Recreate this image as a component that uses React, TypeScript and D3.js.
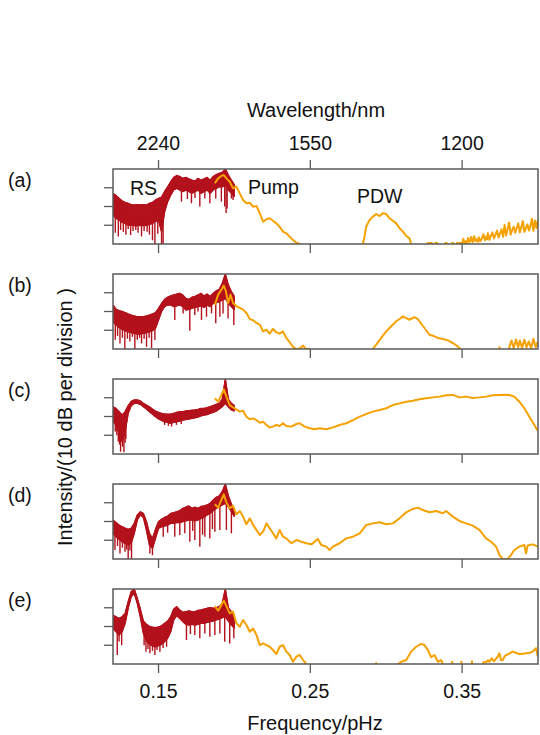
import React from 'react';
import * as d3 from 'd3';

type P = [number, number];

const panelLabels = ['(a)', '(b)', '(c)', '(d)', '(e)'];
const freqTicks = [0.15, 0.25, 0.35];
const freqTickLabels = ['0.15', '0.25', '0.35'];
const wavelengthLabels = ['2240', '1550', '1200'];
const intensityTicks = [1, 2, 3];

const redF = [0.120, 0.122, 0.124, 0.126, 0.128, 0.130, 0.132, 0.134, 0.136, 0.138, 0.140, 0.142, 0.144, 0.146, 0.148, 0.150, 0.152, 0.154, 0.156, 0.158, 0.160, 0.162, 0.164, 0.166, 0.168, 0.170, 0.172, 0.174, 0.176, 0.178, 0.180, 0.182, 0.184, 0.186, 0.188, 0.190, 0.192, 0.194, 0.196, 0.198, 0.200];

// ---- panel (a)
const redHiA = [2.7, 2.58, 2.44, 2.3, 2.22, 2.17, 2.1, 2.08, 2.1, 2.08, 2.1, 2.08, 2.17, 2.22, 2.35, 2.43, 2.5, 2.8, 3.05, 3.32, 3.55, 3.65, 3.6, 3.5, 3.55, 3.47, 3.4, 3.36, 3.5, 3.4, 3.47, 3.55, 3.4, 3.6, 3.7, 3.77, 3.82, 4.0, 3.68, 3.4, 3.15];
const redLoA = [1.55, 1.37, 1.28, 1.15, 1.1, 1.0, 1.0, 0.98, 0.98, 1.0, 0.98, 1.0, 1.05, 1.1, 1.2, 1.28, 0.65, 1.72, 2.26, 2.6, 2.88, 2.97, 2.88, 2.8, 2.88, 2.8, 2.7, 2.8, 2.88, 2.7, 2.8, 2.88, 2.7, 2.88, 2.97, 3.05, 3.05, 3.15, 2.88, 2.7, 2.52];
const spikesA: P[] = [[0.1215, 0.6], [0.1235, 0.4], [0.125, 0.75], [0.1268, 0.65], [0.1285, 0.5], [0.13, 0.8], [0.1316, 0.48], [0.1332, 0.7], [0.135, 0.75], [0.1365, 0.6], [0.1388, 0.4], [0.1405, 0.7], [0.1425, 0.65], [0.144, 0.5], [0.146, 0.2], [0.1476, 0], [0.1495, 0.55], [0.152, 0], [0.153, 0], [0.1651, 2.26], [0.169, 2.4], [0.1717, 2.17], [0.174, 2.45], [0.1772, 2.0], [0.1805, 2.43], [0.1838, 2.17], [0.1877, 2.43], [0.1914, 2.26], [0.1936, 2.0], [0.1945, 1.65], [0.1952, 1.9], [0.198, 2.43], [0.1991, 2.35]];
const orangeA: P[] = [[0.1871, 3.24], [0.1893, 3.5], [0.1914, 3.63], [0.193, 3.68], [0.1947, 3.5], [0.1969, 3.32], [0.1991, 2.97], [0.2013, 3.06], [0.2035, 2.7], [0.2057, 2.35], [0.2079, 2.17], [0.2101, 2.2], [0.2123, 1.99], [0.2145, 2.03], [0.2167, 1.64], [0.2189, 1.19], [0.2211, 1.32], [0.2232, 1.37], [0.2254, 1.24], [0.2276, 1.1], [0.2298, 0.92], [0.232, 0.66], [0.2342, 0.57], [0.2364, 0.39], [0.2386, 0.21], [0.2408, 0.07], [0.243, 0], [0.2441, -1], [0.284, -1], [0.2846, 0], [0.2857, 0.39], [0.2868, 0.92], [0.289, 1.28], [0.2912, 1.46], [0.2934, 1.6], [0.2956, 1.49], [0.2978, 1.64], [0.3, 1.6], [0.3022, 1.37], [0.3044, 1.24], [0.3066, 1.1], [0.3088, 0.84], [0.311, 0.66], [0.3132, 0.43], [0.3154, 0.3], [0.3164, 0], [0.317, -1], [0.327, -1], [0.3274, 0.06], [0.3302, 0.06], [0.3306, -1], [0.332, -1], [0.3324, 0.06], [0.3336, 0.06], [0.334, -1], [0.3385, -1], [0.339, 0.06], [0.3398, 0.06], [0.3402, -1], [0.343, -1], [0.3434, 0.06], [0.3442, 0.06], [0.3446, -1], [0.3462, -1], [0.3466, 0.06], [0.3492, 0.06], [0.35, 0.02], [0.3508, 0.28], [0.3515, 0.04], [0.3522, 0.15], [0.353, 0.05], [0.354, 0.32], [0.3548, 0.08], [0.3555, 0.2], [0.356, 0.38], [0.357, 0.1], [0.358, 0.42], [0.3588, 0.15], [0.3595, 0.25], [0.3605, 0.12], [0.361, 0.36], [0.362, 0.15], [0.363, 0.3], [0.364, 0.52], [0.365, 0.2], [0.3658, 0.4], [0.3665, 0.25], [0.367, 0.58], [0.368, 0.22], [0.369, 0.45], [0.37, 0.62], [0.371, 0.3], [0.372, 0.5], [0.373, 0.72], [0.374, 0.35], [0.375, 0.55], [0.376, 0.78], [0.377, 0.38], [0.378, 1.02], [0.379, 0.45], [0.38, 0.8], [0.381, 1.15], [0.382, 0.5], [0.383, 0.75], [0.384, 0.92], [0.385, 0.6], [0.386, 0.85], [0.387, 1.1], [0.388, 0.62], [0.389, 0.9], [0.39, 1.22], [0.391, 0.65], [0.392, 0.85], [0.393, 1.05], [0.394, 0.72], [0.395, 0.95], [0.396, 1.35], [0.397, 0.7], [0.398, 1.25], [0.399, 0.85], [0.4, 1.3]];

// ---- panel (b)
const redHiB = [2.35, 2.12, 2.04, 2.0, 1.94, 1.87, 1.81, 1.76, 1.72, 1.72, 1.72, 1.76, 1.81, 1.87, 1.94, 2.17, 2.43, 2.65, 2.76, 2.83, 2.88, 2.93, 2.97, 2.88, 2.7, 2.65, 2.76, 2.8, 2.88, 2.97, 2.83, 2.93, 2.8, 2.97, 3.1, 3.18, 3.5, 4.0, 3.41, 3.06, 2.8];
const redLoB = [1.46, 1.28, 1.15, 1.05, 0.98, 0.92, 0.87, 0.84, 0.8, 0.8, 0.84, 0.87, 0.92, 0.98, 1.1, 1.55, 2.0, 2.26, 2.35, 2.35, 2.26, 2.3, 2.35, 2.26, 2.08, 2.12, 2.17, 2.22, 2.26, 2.3, 2.22, 2.35, 2.26, 2.43, 2.47, 2.52, 2.61, 2.7, 2.43, 2.26, 2.08];
const spikesB: P[] = [[0.1215, 0.5], [0.123, 0.7], [0.1246, 0.3], [0.1262, 0.6], [0.1278, 0], [0.1295, 0.55], [0.1311, 0.4], [0.1328, 0.65], [0.1344, 0], [0.136, 0.5], [0.1375, 0.6], [0.1388, 0.3], [0.1405, 0.55], [0.1421, 0.12], [0.1438, 0.6], [0.1454, 0.05], [0.1476, 0.48], [0.1607, 1.55], [0.1662, 1.9], [0.1706, 0.98], [0.1739, 1.81], [0.176, 2.0], [0.1783, 1.55], [0.1816, 1.72], [0.1849, 1.9], [0.1877, 1.37], [0.1904, 1.72], [0.1925, 1.9], [0.1958, 1.63], [0.1996, 1.28]];
const orangeB: P[] = [[0.1871, 2.36], [0.1893, 2.9], [0.1914, 3.16], [0.193, 3.38], [0.1944, 3.08], [0.1958, 2.45], [0.1974, 2.9], [0.1991, 2.45], [0.2013, 2.28], [0.2035, 2.19], [0.2057, 2.1], [0.2079, 1.92], [0.2101, 1.6], [0.2123, 1.53], [0.2145, 1.39], [0.2167, 1.3], [0.2189, 0.94], [0.2211, 1.03], [0.2232, 0.82], [0.2254, 1.07], [0.2276, 0.89], [0.2298, 0.82], [0.232, 0.94], [0.2342, 0.59], [0.2364, 0.36], [0.2386, 0.11], [0.2408, 0], [0.243, 0.03], [0.2452, 0.18], [0.247, 0], [0.249, 0.02], [0.251, -1], [0.2905, -1], [0.2912, 0], [0.2934, 0.23], [0.2967, 0.59], [0.3, 0.94], [0.3033, 1.21], [0.3066, 1.48], [0.3088, 1.6], [0.311, 1.74], [0.3132, 1.65], [0.3154, 1.56], [0.3186, 1.7], [0.3208, 1.6], [0.323, 1.35], [0.3252, 1.12], [0.3285, 0.76], [0.3307, 0.71], [0.334, 0.59], [0.3373, 0.53], [0.3406, 0.46], [0.3439, 0.32], [0.3471, 0.14], [0.3487, 0], [0.3495, -1], [0.374, -1], [0.3746, 0.1], [0.3752, -1], [0.38, -1], [0.3811, 0.1], [0.3825, 0.45], [0.384, 0.05], [0.3855, 0.5], [0.387, 0.1], [0.388, 0.45], [0.3895, 0.05], [0.391, 0.5], [0.3925, 0.1], [0.394, 0.4], [0.3955, 0.05], [0.397, 0.55], [0.3985, 0.1], [0.4, 0.4]];

// ---- panel (c)
const redHiC = [2.52, 2.43, 2.26, 2.08, 2.26, 2.58, 2.8, 2.88, 2.88, 2.83, 2.7, 2.61, 2.52, 2.4, 2.29, 2.22, 2.17, 2.13, 2.12, 2.12, 2.17, 2.22, 2.26, 2.26, 2.29, 2.31, 2.33, 2.35, 2.38, 2.43, 2.43, 2.47, 2.52, 2.58, 2.65, 2.7, 2.93, 4.0, 2.93, 2.7, 2.58];
const redLoC = [1.72, 1.55, 1.1, 0.66, 1.19, 2.17, 2.58, 2.7, 2.7, 2.65, 2.52, 2.4, 2.26, 2.12, 1.99, 1.87, 1.8, 1.72, 1.69, 1.64, 1.69, 1.72, 1.76, 1.81, 1.84, 1.87, 1.9, 1.93, 1.97, 2.04, 2.08, 2.1, 2.17, 2.22, 2.29, 2.4, 2.52, 2.7, 2.52, 2.35, 2.29];
const spikesC: P[] = [[0.1215, 1.2], [0.1225, 1.0], [0.1235, 0.66], [0.1243, 0.5], [0.125, 0.12], [0.1257, 0.8], [0.1263, 0.39], [0.1272, 0.09], [0.128, 0.6], [0.1285, 0.8], [0.154, 1.55], [0.1565, 1.5], [0.1586, 1.46], [0.1618, 1.55], [0.165, 1.6]];
const orangeC: P[] = [[0.1871, 2.97], [0.1893, 2.79], [0.1914, 3.15], [0.193, 3.45], [0.1947, 3.06], [0.1969, 2.61], [0.1991, 2.49], [0.2013, 2.38], [0.2035, 2.26], [0.2057, 2.31], [0.2079, 1.99], [0.2101, 1.85], [0.2123, 1.9], [0.2145, 1.81], [0.2167, 1.67], [0.2189, 1.72], [0.2211, 1.55], [0.2232, 1.42], [0.2254, 1.46], [0.2276, 1.55], [0.2298, 1.49], [0.232, 1.64], [0.2342, 1.49], [0.2375, 1.46], [0.2408, 1.6], [0.243, 1.64], [0.2463, 1.46], [0.2496, 1.37], [0.2529, 1.32], [0.2561, 1.37], [0.2605, 1.32], [0.2649, 1.42], [0.2693, 1.55], [0.2737, 1.64], [0.2781, 1.81], [0.2825, 1.99], [0.2868, 2.13], [0.2912, 2.26], [0.2956, 2.35], [0.3, 2.44], [0.3044, 2.61], [0.3088, 2.7], [0.3132, 2.79], [0.3175, 2.84], [0.3219, 2.92], [0.3263, 2.97], [0.3307, 3.02], [0.3351, 3.06], [0.3395, 3.13], [0.3439, 3.15], [0.3482, 3.02], [0.3526, 3.06], [0.357, 2.99], [0.3614, 3.02], [0.3658, 3.06], [0.3702, 3.13], [0.3746, 3.15], [0.3779, 3.16], [0.3811, 3.15], [0.3844, 3.06], [0.3877, 2.79], [0.391, 2.44], [0.3943, 1.99], [0.3976, 1.55], [0.3998, 1.24]];

// ---- panel (d)
const redHiD = [2.08, 1.94, 1.81, 1.72, 1.64, 1.58, 1.64, 1.9, 2.35, 2.52, 2.43, 2.0, 1.37, 1.1, 1.58, 2.0, 2.12, 2.22, 2.29, 2.43, 2.47, 2.52, 2.58, 2.7, 2.76, 2.83, 2.7, 2.76, 2.7, 2.8, 2.83, 2.88, 2.97, 3.15, 3.29, 3.36, 3.6, 4.0, 3.36, 2.93, 2.58];
const redLoD = [1.37, 1.19, 1.05, 0.92, 0.84, 0.75, 0.84, 1.37, 2.08, 2.35, 2.22, 1.55, 0.75, 0.57, 1.1, 1.64, 1.72, 1.76, 1.81, 1.9, 1.9, 1.94, 1.94, 1.99, 2.04, 2.08, 2.08, 2.04, 2.08, 2.17, 2.22, 2.35, 2.43, 2.58, 2.7, 2.79, 2.88, 2.97, 2.79, 2.52, 2.26];
const spikesD: P[] = [[0.1213, 0.48], [0.123, 0.7], [0.1246, 0.3], [0.1262, 0.6], [0.1279, 0.39], [0.129, 0.5], [0.13, 0], [0.1311, 0.45], [0.1322, 0], [0.1443, 0.3], [0.146, 0.2], [0.1531, 1.19], [0.156, 1.4], [0.1607, 1.19], [0.164, 1.28], [0.1673, 1.37], [0.1706, 0.92], [0.1725, 1.5], [0.1739, 1.01], [0.1772, 0.66], [0.179, 1.3], [0.1805, 1.19], [0.1838, 1.1], [0.1855, 1.6], [0.1871, 1.46], [0.1904, 1.55], [0.1947, 1.55], [0.198, 1.37]];
const orangeD: P[] = [[0.1871, 2.92], [0.1893, 2.74], [0.1914, 3.15], [0.193, 3.45], [0.1947, 3.02], [0.1969, 2.7], [0.1991, 2.84], [0.2013, 2.38], [0.2035, 2.56], [0.2057, 2.26], [0.2079, 1.85], [0.2101, 2.17], [0.2123, 1.81], [0.2145, 1.55], [0.2167, 1.28], [0.2189, 1.46], [0.2211, 1.9], [0.2232, 1.64], [0.2254, 1.37], [0.2276, 1.1], [0.2298, 1.55], [0.232, 1.19], [0.2342, 1.1], [0.2375, 0.84], [0.2408, 1.01], [0.2441, 0.92], [0.2474, 0.84], [0.2507, 0.78], [0.255, 1.07], [0.2572, 0.75], [0.2605, 0.66], [0.2627, 0.48], [0.2649, 0.66], [0.2693, 0.84], [0.2737, 1.1], [0.2781, 1.19], [0.2825, 1.37], [0.2868, 1.81], [0.2912, 1.9], [0.2956, 1.96], [0.3, 1.85], [0.3044, 1.9], [0.3088, 2.17], [0.3132, 2.49], [0.3175, 2.67], [0.3208, 2.74], [0.3241, 2.61], [0.3285, 2.49], [0.3329, 2.56], [0.3373, 2.44], [0.3395, 2.56], [0.3439, 2.26], [0.3482, 2.03], [0.3526, 1.9], [0.357, 1.78], [0.3614, 1.55], [0.3658, 1.1], [0.3691, 0.92], [0.3724, 0.66], [0.3746, 0.21], [0.3768, 0], [0.38, 0], [0.3822, 0.21], [0.3844, 0.48], [0.3877, 0.66], [0.391, 0.75], [0.3921, 0.3], [0.3932, 0.72], [0.3965, 0.78], [0.3998, 0.66]];

// ---- panel (e)
const redHiE = [2.61, 2.52, 2.43, 2.52, 2.7, 3.32, 3.86, 4.0, 3.5, 2.93, 2.29, 2.12, 2.01, 1.96, 1.94, 1.97, 2.04, 2.17, 2.29, 2.52, 2.93, 3.06, 2.88, 2.76, 2.79, 2.83, 2.79, 2.79, 2.86, 2.88, 2.93, 2.97, 3.0, 2.97, 3.0, 3.06, 3.24, 4.0, 3.0, 2.79, 2.61];
const redLoE = [1.9, 1.72, 1.55, 1.72, 2.17, 2.97, 3.59, 3.77, 3.24, 2.52, 1.64, 1.23, 1.05, 0.96, 0.92, 0.98, 1.05, 1.19, 1.37, 1.72, 2.35, 2.58, 2.43, 2.26, 2.12, 2.08, 2.12, 2.08, 2.12, 2.17, 2.17, 2.22, 2.26, 2.29, 2.35, 2.4, 2.47, 2.52, 2.29, 2.08, 1.9];
const spikesE: P[] = [[0.1228, 0.48], [0.124, 1.2], [0.1257, 1.01], [0.1405, 1.0], [0.1417, 0.66], [0.143, 0.8], [0.1443, 0.57], [0.146, 0.7], [0.1476, 0.48], [0.149, 0.75], [0.1509, 0.66], [0.153, 0.85], [0.1553, 0.92], [0.1684, 1.28], [0.171, 1.6], [0.1739, 1.55], [0.1772, 1.37], [0.1805, 1.63], [0.1838, 1.46], [0.1871, 1.55], [0.1904, 1.63], [0.1936, 1.19], [0.1969, 1.1], [0.1996, 1.37]];
const orangeE: P[] = [[0.1871, 3.09], [0.1893, 2.84], [0.1914, 3.15], [0.193, 3.38], [0.1947, 3.09], [0.1969, 2.7], [0.1991, 2.79], [0.2013, 2.17], [0.2035, 1.99], [0.2057, 2.35], [0.2079, 2.08], [0.2101, 1.72], [0.2123, 1.9], [0.2145, 1.55], [0.2167, 1.01], [0.2189, 1.1], [0.2211, 1.01], [0.2232, 0.92], [0.2254, 0.75], [0.2276, 0.53], [0.2298, 0.92], [0.232, 1.01], [0.2342, 0.66], [0.2364, 0.48], [0.2386, 0.12], [0.2408, 0.39], [0.243, 0.48], [0.2452, 0.21], [0.2474, 0], [0.248, -1], [0.293, -1], [0.2934, 0.05], [0.2938, -1], [0.307, -1], [0.3077, 0], [0.3099, 0.12], [0.3132, 0.21], [0.3164, 0.66], [0.3197, 0.92], [0.323, 1.07], [0.3252, 1.01], [0.3274, 0.75], [0.3296, 0.36], [0.3318, 0.48], [0.334, 0.12], [0.3362, 0.21], [0.3373, 0], [0.338, -1], [0.343, -1], [0.3435, 0.12], [0.344, -1], [0.349, -1], [0.3495, 0.12], [0.35, -1], [0.356, -1], [0.3565, 0.15], [0.357, -1], [0.3635, -1], [0.364, 0.1], [0.366, 0.1], [0.367, 0.2], [0.368, 0.12], [0.3695, 0.3], [0.371, 0.15], [0.372, 0.25], [0.3735, 0.4], [0.3746, 0.57], [0.3757, 0.2], [0.3768, 0.21], [0.378, 0.4], [0.379, 0.48], [0.381, 0.55], [0.3833, 0.66], [0.3855, 0.6], [0.3877, 0.53], [0.39, 0.55], [0.3921, 0.57], [0.3945, 0.6], [0.3965, 0.66], [0.3987, 0.84], [0.3998, 0.43]];

const RED = '#b3111b';
const ORANGE = '#f5a100';
const FRAME = '#595959';
const FONT = "'Liberation Sans', Arial, Helvetica, sans-serif";

const X0 = 113;
const X1 = 538;
const PANEL_TOPS = [169, 274, 379, 484, 589];
const PH = 75;
const TICK = 9;

const panels = [
  { label: panelLabels[0], hi: redHiA, lo: redLoA, spikes: spikesA, orange: orangeA },
  { label: panelLabels[1], hi: redHiB, lo: redLoB, spikes: spikesB, orange: orangeB },
  { label: panelLabels[2], hi: redHiC, lo: redLoC, spikes: spikesC, orange: orangeC },
  { label: panelLabels[3], hi: redHiD, lo: redLoD, spikes: spikesD, orange: orangeD },
  { label: panelLabels[4], hi: redHiE, lo: redLoE, spikes: spikesE, orange: orangeE },
];

export default function App() {
  const x = d3.scaleLinear().domain([0.12, 0.4]).range([X0, X1]);
  const bis = d3.bisector((d: number) => d).left;
  const at = (arr: number[], f: number) => {
    const i = Math.max(1, Math.min(redF.length - 1, bis(redF, f)));
    const t = (f - redF[i - 1]) / (redF[i] - redF[i - 1]);
    return arr[i - 1] + (arr[i] - arr[i - 1]) * t;
  };

  return (
    <svg width={540} height={735} style={{ position: 'absolute', left: 0, top: 0, display: 'block', background: '#fff' }} fontFamily={FONT}>
      <defs>
        {PANEL_TOPS.map((top, k) => (
          <clipPath id={`clip${k}`} key={k}>
            <rect x={X0} y={top} width={X1 - X0} height={PH} />
          </clipPath>
        ))}
      </defs>
      {panels.map((p, k) => {
        const top = PANEL_TOPS[k];
        const y = d3.scaleLinear().domain([0, 4]).range([top + PH, top]);
        const rd = redF.map((f, i) => ({ f, hi: p.hi[i], lo: p.lo[i] }));
        const area = d3.area<{ f: number; hi: number; lo: number }>().x(d => x(d.f)).y0(d => y(d.lo)).y1(d => y(d.hi));
        const hiLine = d3.line<{ f: number; hi: number; lo: number }>().x(d => x(d.f)).y(d => y(d.hi));
        const loLine = d3.line<{ f: number; hi: number; lo: number }>().x(d => x(d.f)).y(d => y(d.lo));
        const oLine = d3.line<P>().x(d => x(d[0])).y(d => y(d[1]));
        return (
          <g key={k}>
            <g clipPath={`url(#clip${k})`}>
              <path d={area(rd) || ''} fill={RED} stroke={RED} strokeWidth={1} />
              <path d={hiLine(rd) || ''} fill="none" stroke={RED} strokeWidth={1.4} strokeLinejoin="round" />
              <path d={loLine(rd) || ''} fill="none" stroke={RED} strokeWidth={1.4} strokeLinejoin="round" />
              {p.spikes.map((s, j) => (
                <line key={j} x1={x(s[0])} x2={x(s[0])} y1={y(s[1])} y2={y((at(p.lo, s[0]) + at(p.hi, s[0])) / 2)} stroke={RED} strokeWidth={1.4} />
              ))}
              <path d={oLine(p.orange) || ''} fill="none" stroke={ORANGE} strokeWidth={2} strokeLinejoin="round" />
            </g>
            <rect x={X0} y={top} width={X1 - X0} height={PH} fill="none" stroke={FRAME} strokeWidth={1.5} />
            {intensityTicks.map(v => (
              <line key={v} x1={X0 - TICK} x2={X0} y1={y(v)} y2={y(v)} stroke={FRAME} strokeWidth={1.3} />
            ))}
            {freqTicks.map(f => (
              <line key={f} x1={x(f)} x2={x(f)} y1={top + PH} y2={top + PH + TICK} stroke={FRAME} strokeWidth={1.3} />
            ))}
            {k === 0 && freqTicks.map(f => (
              <line key={'t' + f} x1={x(f)} x2={x(f)} y1={top - TICK} y2={top} stroke={FRAME} strokeWidth={1.3} />
            ))}
            <text x={8} y={top + 18} fontSize={19.5} fill="#111">{p.label}</text>
          </g>
        );
      })}
      {freqTicks.map((f, i) => (
        <text key={'w' + i} x={x(f)} y={150} fontSize={19.5} textAnchor="middle" fill="#111">{wavelengthLabels[i]}</text>
      ))}
      {freqTicks.map((f, i) => (
        <text key={'f' + i} x={x(f)} y={698} fontSize={19.5} textAnchor="middle" fill="#111">{freqTickLabels[i]}</text>
      ))}
      <text x={316} y={117} fontSize={20} textAnchor="middle" fill="#111">Wavelength/nm</text>
      <text x={315} y={730} fontSize={20} textAnchor="middle" fill="#111">Frequency/pHz</text>
      <text transform="translate(72,417) rotate(-90)" fontSize={20} textAnchor="middle" fill="#111">Intensity/(10 dB per division )</text>
      <text x={130} y={195} fontSize={19.5} fill="#111">RS</text>
      <text x={248} y={194} fontSize={19.5} fill="#111">Pump</text>
      <text x={357} y={203} fontSize={19.5} fill="#111">PDW</text>
    </svg>
  );
}
